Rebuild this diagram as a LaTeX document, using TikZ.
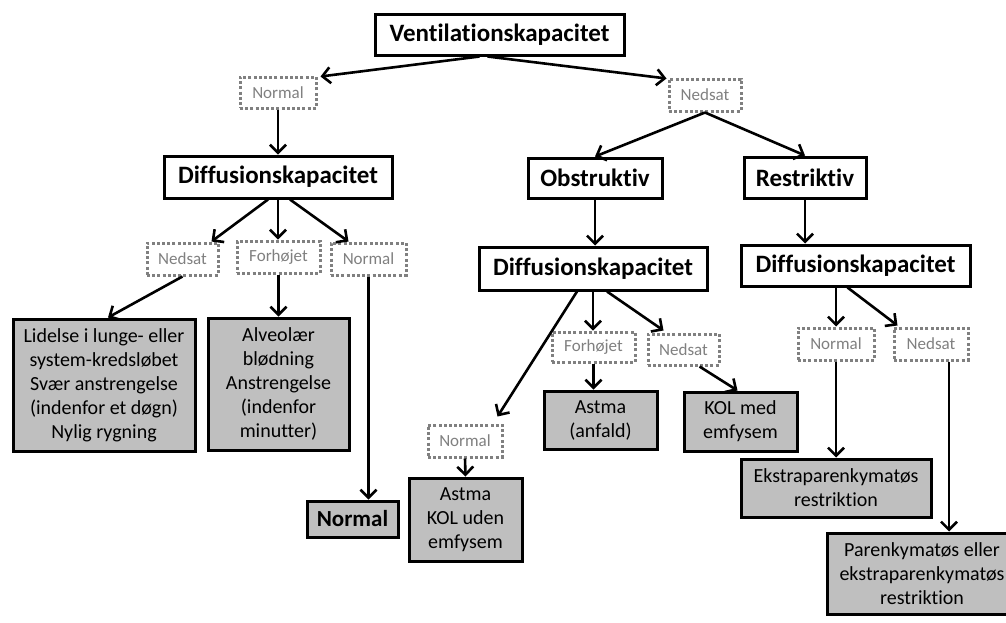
\documentclass[tikz,border=0pt]{standalone}
\usepackage{fontspec}
\setmainfont{Carlito}[Ligatures={NoCommon,NoContextual}]
\usetikzlibrary{arrows.meta,calc}
\definecolor{boxgray}{RGB}{191,191,191}
\definecolor{dotgray}{RGB}{128,128,128}
\begin{document}
\begin{tikzpicture}[x=1pt,y=-1pt,
  head/.style={draw=black, line width=3pt, fill=white, font=\fontsize{25}{30}\selectfont\bfseries, inner sep=0pt},
  lab/.style={draw=dotgray, line width=3pt, dash pattern=on 3pt off 2.2pt, fill=white, text=dotgray, font=\fontsize{17}{20}\selectfont, inner sep=0pt},
  res/.style={draw=black, line width=3pt, fill=boxgray, font=\fontsize{20}{24}\selectfont, align=center, inner sep=0pt},
  conn/.style={line width=2.6pt, -{Straight Barb[length=8pt,width=16pt]}}
]
\useasboundingbox (0,0) rectangle (1006,622);
\fill[white] (0,0) rectangle (1006,622);

% level 0
\node[head, minimum width=249pt, minimum height=41pt] (vent) at (499.5,34.5) {Ventilationskapacitet};
\node[lab, minimum width=76pt, minimum height=31pt] (n1) at (278,92.5) {Normal};
\node[lab, minimum width=72pt, minimum height=32pt] (ned1) at (705,95) {Nedsat};

% left branch
\node[head, minimum width=228pt, minimum height=42pt] (diffL) at (278,177) {Diffusionskapacitet};
\node[lab, minimum width=71pt, minimum height=32pt] (nedL) at (182.5,259) {Nedsat};
\node[lab, minimum width=83pt, minimum height=32pt] (forL) at (278.5,257) {Forhøjet};
\node[lab, minimum width=75pt, minimum height=32pt] (norL) at (368.5,259) {Normal};
\node[res, minimum width=182pt, minimum height=132pt] (lidelse) at (104,385) {Lidelse i lunge- eller\\system-kredsløbet\\Svær anstrengelse\\(indenfor et døgn)\\Nylig rygning};
\node[res, minimum width=141pt, minimum height=132pt] (alveo) at (278.5,384) {Alveolær\\blødning\\Anstrengelse\\(indenfor\\minutter)};
\node[res, minimum width=91pt, minimum height=36pt, font=\fontsize{23}{28}\selectfont\bfseries] (normBox) at (352.5,519) {Normal};

% right branches
\node[head, minimum width=134pt, minimum height=40pt] (obst) at (595,178) {Obstruktiv};
\node[head, minimum width=122pt, minimum height=41pt] (restr) at (805,177.5) {Restriktiv};
\node[head, minimum width=228pt, minimum height=43pt] (diffM) at (593,268.5) {Diffusionskapacitet};
\node[head, minimum width=229pt, minimum height=41pt] (diffR) at (855.5,265.5) {Diffusionskapacitet};

\node[lab, minimum width=83pt, minimum height=30pt] (forM) at (593.5,347) {Forhøjet};
\node[lab, minimum width=71pt, minimum height=31pt] (nedM) at (683.5,349.5) {Nedsat};
\node[lab, minimum width=74pt, minimum height=32pt] (norM) at (465,441) {Normal};
\node[res, minimum width=113pt, minimum height=58pt] (astmaA) at (600.5,420) {Astma\\(anfald)};
\node[res, minimum width=113pt, minimum height=83pt] (astmaK) at (465.5,519.5) {Astma\\KOL uden\\emfysem};
\node[res, minimum width=113pt, minimum height=59pt] (kol) at (740.5,421.5) {KOL med\\emfysem};

\node[lab, minimum width=76pt, minimum height=32pt] (norR) at (836,344) {Normal};
\node[lab, minimum width=74pt, minimum height=32pt] (nedR) at (931,344) {Nedsat};
\node[res, minimum width=190pt, minimum height=58pt] (ekstra) at (836,488) {Ekstraparenkymatøs\\restriktion};
\node[res, minimum width=190pt, minimum height=81pt] (paren) at (922,573.5) {Parenkymatøs eller\\ekstraparenkymatøs\\restriktion};

% connectors
\draw[conn] ($(vent.south)+(-20,0)$) -- ($(n1.north east)+(3,1)$);
\draw[conn] ($(vent.south)+(-12,0)$) -- ($(ned1.north west)+(-1,1)$);
\draw[conn] (n1.south) -- (diffL.north);
\draw[conn] (ned1.south) -- (obst.north);
\draw[conn] (ned1.south) -- (restr.north);

\draw[conn] ($(diffL.south)+(-10,0)$) -- ($(nedL.north east)+(-8,0)$);
\draw[conn] (diffL.south) -- (diffL.south |- forL.north);
\draw[conn] ($(diffL.south)+(12,0)$) -- ($(norL.north)+(-20,0)$);
\draw[conn] (nedL.south) -- ($(lidelse.north)+(4,0)$);
\draw[conn] (forL.south) -- (forL.south |- alveo.north);
\draw[conn] (norL.south) -- (norL.south |- normBox.north);

\draw[conn] (obst.south) -- (obst.south |- diffM.north);
\draw[conn] (restr.south) -- (restr.south |- diffR.north);

\draw[conn] ($(diffM.south)+(-16,0)$) -- ($(norM.north east)+(-6,-7)$);
\draw[conn] (diffM.south) -- (diffM.south |- forM.north);
\draw[conn] ($(diffM.south)+(14,0)$) -- ($(nedM.north)+(-20,-2)$);
\draw[conn] (forM.south) -- (forM.south |- astmaA.north);
\draw[conn] (norM.south) -- (astmaK.north);
\draw[conn] ($(nedM.south)+(16,0)$) -- ($(kol.north)+(-3,0)$);

\draw[conn] (norR.north |- diffR.south) -- (norR.north);
\draw[conn] ($(diffR.south)+(-8,0)$) -- ($(nedR.north west)+(5,-1)$);
\draw[conn] (norR.south) -- (ekstra.north);
\coordinate (q) at ($(nedR.south)+(18,0)$);
\draw[conn] (q) -- (q |- paren.north);
\end{tikzpicture}
\end{document}
